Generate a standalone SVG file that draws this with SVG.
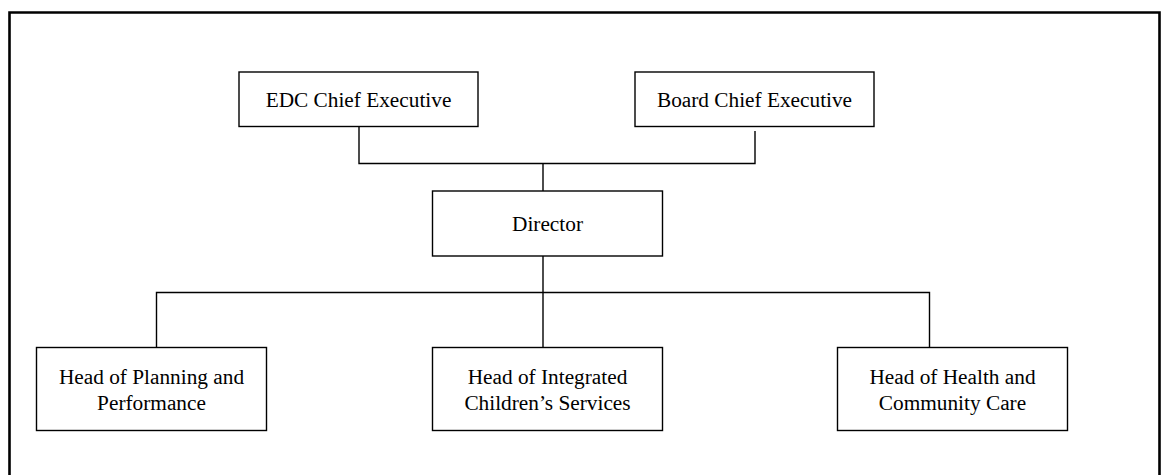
<svg xmlns="http://www.w3.org/2000/svg" width="1161" height="475" viewBox="0 0 1161 475">
<style>
.box{fill:#fff;stroke:#000;stroke-width:1.4}
.lbl{font-family:"Liberation Serif","Times New Roman",serif;font-size:21.3px;fill:#000;text-anchor:middle}
.con{fill:none;stroke:#000;stroke-width:1.4}
</style>
<rect width="1161" height="475" fill="#fff"/>
<path d="M9.5,480 V12.5 H1159.5 V480" fill="none" stroke="#000" stroke-width="2.6"/>
<g id="connectors" class="con">
<path d="M359,126.5 V163.5 H755 V131"/>
<path d="M543,163.5 V191"/>
<path d="M543,256 V292.5"/>
<path d="M156.5,347.5 V292.5 H929.5 V347.5"/>
<path d="M543,292.5 V347.5"/>
</g>
<g id="edc"><rect class="box" x="239" y="72" width="239" height="54.5"/><text class="lbl" x="358.5" y="106.5">EDC Chief Executive</text></g>
<g id="board"><rect class="box" x="635" y="72" width="239" height="54.5"/><text class="lbl" x="754.5" y="106.5">Board Chief Executive</text></g>
<g id="director"><rect class="box" x="432.5" y="191" width="230" height="65"/><text class="lbl" x="547.5" y="230.5">Director</text></g>
<g id="planning"><rect class="box" x="36.5" y="347.5" width="230" height="83"/><text class="lbl" x="151.5" y="384">Head of Planning and</text><text class="lbl" x="151.5" y="410">Performance</text></g>
<g id="children"><rect class="box" x="432.5" y="347.5" width="230" height="83"/><text class="lbl" x="547.5" y="384">Head of Integrated</text><text class="lbl" x="547.5" y="410">Children’s Services</text></g>
<g id="health"><rect class="box" x="837.5" y="347.5" width="230" height="83"/><text class="lbl" x="952.5" y="384">Head of Health and</text><text class="lbl" x="952.5" y="410">Community Care</text></g>
</svg>
